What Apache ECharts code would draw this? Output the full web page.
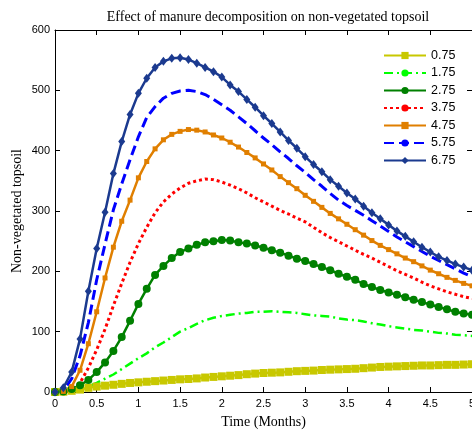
<!DOCTYPE html>
<html><head><meta charset="utf-8">
<script src="https://cdn.jsdelivr.net/npm/echarts@6/dist/echarts.min.js"></script>
<style>html,body{margin:0;padding:0;background:#fff}#c{width:472px;height:433px}</style>
</head><body><div id="c"></div>
<script>
const time = [0,0.1,0.2,0.3,0.4,0.5,0.6,0.7,0.8,0.9,1.0,1.1,1.2,1.3,1.4,1.5,1.6,1.7,1.8,1.9,2.0,2.1,2.2,2.3,2.4,2.5,2.6,2.7,2.8,2.9,3.0,3.1,3.2,3.3,3.4,3.5,3.6,3.7,3.8,3.9,4.0,4.1,4.2,4.3,4.4,4.5,4.6,4.7,4.8,4.9,5.0];
const seriesNames = ['0.75','1.75','2.75','3.75','4.75','5.75','6.75'];
const s075 = [0,0.5,2,4,7,9,10.5,12,13.5,15,16, 17,18,19,20,21,21.5,22.5,24,25,26, 27,28,29.5,30.5,31.5,32,32.5,33.5,34.5,35, 35.5,36.5,37,37.5,38,38.5,39.5,40.5,41.5,42, 42.5,43,43.5,44,44,44.5,45,45,45.5,46];
const s175 = [0,0,1,4,9,15,22,29,38,47,56, 64,74,82,91,100,106,113,119,123,126, 128,130,131,133,133,134,133,132,131,129, 127,126,125,122,120,119,117,114,112,109, 107,105,103,102,100,98,97,95,94,93];
const s275 = [0,1,5,11,20,33,49,68,91,118,146, 171,194,209,222,232,238,244,248,250,252, 251,248,246,243,239,235,231,226,221,217, 212,207,202,196,191,186,179,174,169,165, 161,157,153,149,145,141,137,133,130,128];
const s375 = [0,0,4,15,40,70,104,143,180,215,246, 273,297,315,328,338,346,350,353,352,348, 343,337,330,322,315,308,301,295,288,282, 273,264,256,249,242,235,228,222,215,208, 201,195,189,182,176,171,166,162,158,155];
const s475 = [0,1,9,36,80,133,189,240,283,318,355, 382,403,418,427,432,435,434,431,426,421, 414,406,397,388,378,368,357,347,337,326, 316,306,296,287,278,269,260,251,243,236, 229,222,216,209,202,196,190,185,180,176];
const s575 = [0,2,22,60,115,186,245,302,345,385,423, 455,473,487,495,499,500,498,493,485,476, 467,456,445,433,421,410,398,387,375,364, 352,341,329,318,309,301,293,284,275,266, 257,249,241,233,225,218,211,204,197,191];
const s675 = [0,7,33,88,167,238,298,362,415,460,495, 520,538,548,553,554,551,545,538,531,522, 509,498,485,472,458,445,431,417,404,390, 377,365,352,341,330,320,308,297,287,277, 267,258,249,240,232,224,218,212,207,202];
const xTicks = ['0','0.5','1','1.5','2','2.5','3','3.5','4','4.5','5'];
const yTicks = ['0','100','200','300','400','500','600'];

const values = [s075,s175,s275,s375,s475,s575,s675];
const styles = [
  {color:'#c8c800', type:'solid', width:2.5, symbol:'rect', size:8, show:true},
  {color:'#00ff00', type:[9,4,2,4], width:2.5, symbol:'circle', size:5, show:false},
  {color:'#008000', type:'solid', width:2.5, symbol:'circle', size:8, show:true},
  {color:'#ff0000', type:[3,3], width:3, symbol:'circle', size:5, show:false},
  {color:'#e07f00', type:'solid', width:2.5, symbol:'rect', size:5, show:true},
  {color:'#0000ff', type:[10,5], width:3, symbol:'circle', size:4, show:false},
  {color:'#1b3a8f', type:'solid', width:2.5, symbol:'diamond', size:[7,9], show:true}
];
const series = seriesNames.map((n,i)=>({
  name:n, type:'line', xAxisIndex:0, yAxisIndex:0,
  data: time.map((t,k)=>[t, values[i][k]]),
  symbol: styles[i].symbol, symbolSize: styles[i].size, showSymbol: styles[i].show,
  lineStyle:{color:styles[i].color, width:styles[i].width, type:styles[i].type},
  itemStyle:{color:styles[i].color},
  animation:false, clip:true
}));

const axisCommon = {
  axisLine:{show:true, onZero:false, lineStyle:{color:'#000', width:1}},
  axisTick:{show:true, inside:true, length:5, lineStyle:{color:'#000'}},
  splitLine:{show:false}
};
const chart = echarts.init(document.getElementById('c'), null, {renderer:'canvas'});
chart.setOption({
  animation:false,
  backgroundColor:'#fff',
  title:{text:'Effect of manure decomposition on non-vegetated topsoil', left:263, textAlign:'center', top:5,
    textStyle:{fontFamily:'Liberation Serif', fontSize:14, fontWeight:'normal', color:'#000'}},
  grid:{left:55, right:0, top:30, bottom:41, outerBoundsMode:'none', containLabel:false},
  legend:{orient:'vertical', left:383, top:49, itemWidth:42, itemHeight:9, itemGap:4.5, padding:0,
    data:seriesNames, textStyle:{fontFamily:'Liberation Sans', fontSize:12.5, color:'#000'}},
  xAxis:[
    Object.assign({type:'value', min:0, max:5, interval:0.5, position:'bottom',
      name:'Time (Months)', nameLocation:'middle', nameGap:23, nameMoveOverlap:false,
      nameTextStyle:{fontFamily:'Liberation Serif', fontSize:14, color:'#000'},
      axisLabel:{fontFamily:'Liberation Sans', fontSize:11, color:'#000', margin:6,
        formatter:(v)=>xTicks[Math.round(v*2)]}}, axisCommon),
    Object.assign({type:'value', min:0, max:5, interval:0.5, position:'top', axisLabel:{show:false}}, axisCommon)
  ],
  yAxis:[
    Object.assign({type:'value', min:0, max:600, interval:100, position:'left',
      name:'Non-vegetated topsoil', nameLocation:'middle', nameGap:31, nameMoveOverlap:false,
      nameTextStyle:{fontFamily:'Liberation Serif', fontSize:14, color:'#000'},
      axisLabel:{fontFamily:'Liberation Sans', fontSize:11, color:'#000', margin:5,
        formatter:(v)=>yTicks[Math.round(v/100)]}}, axisCommon),
    Object.assign({type:'value', min:0, max:600, interval:100, position:'right', axisLabel:{show:false}}, axisCommon)
  ],
  series: series
});
</script></body></html>
